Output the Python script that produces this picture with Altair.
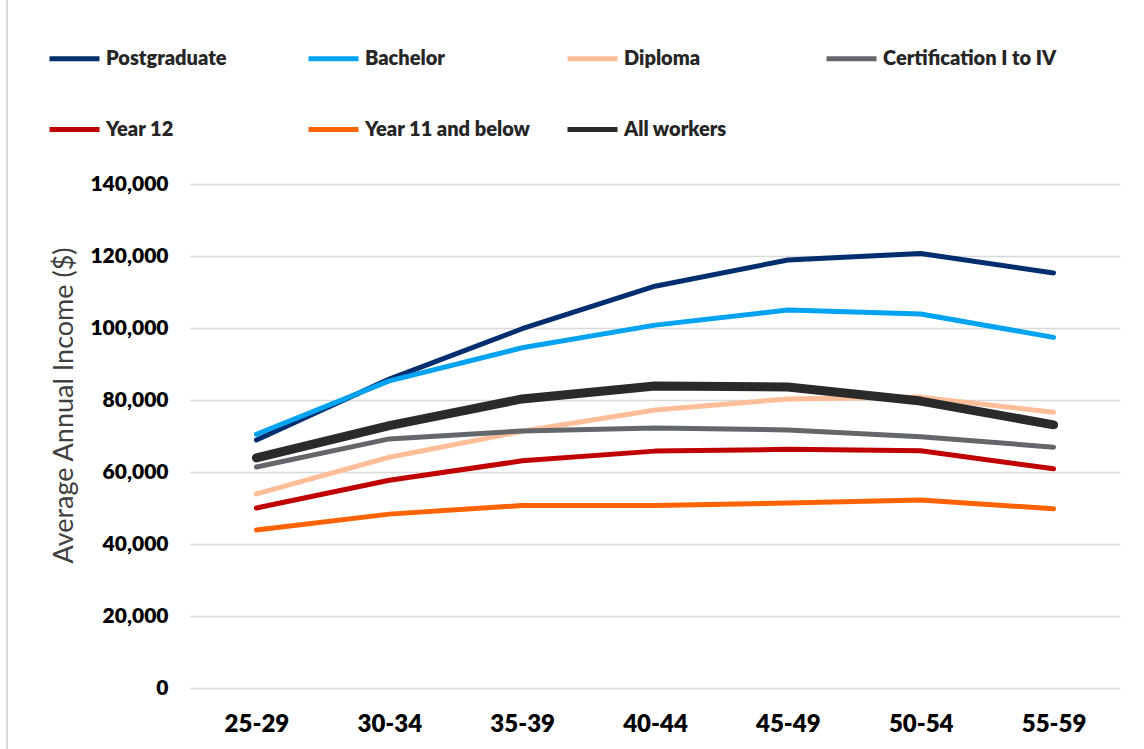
import altair as alt
import pandas as pd

age_groups = ["25-29", "30-34", "35-39", "40-44", "45-49", "50-54", "55-59"]

series_names = [
    "Postgraduate",
    "Bachelor",
    "Diploma",
    "Certification I to IV",
    "Year 12",
    "Year 11 and below",
    "All workers",
]

postgraduate = [68900, 85800, 99800, 111600, 118900, 120700, 115300]
bachelor = [70500, 85300, 94500, 100800, 105000, 103900, 97400]
diploma = [53900, 64100, 71300, 77200, 80300, 80800, 76600]
certification = [61400, 69200, 71400, 72200, 71700, 69800, 66900]
year12 = [50000, 57700, 63100, 65800, 66300, 65900, 60900]
year11 = [43900, 48300, 50700, 50700, 51400, 52200, 49800]
all_workers = [63900, 72900, 80300, 83900, 83600, 79700, 73100]

colors = ["#002E6E", "#00A2F2", "#FFBE98", "#63666A", "#C00000", "#FF6200", "#2A2A2A"]
widths = [5, 5, 5, 5, 5, 5, 9]

values = [postgraduate, bachelor, diploma, certification, year12, year11, all_workers]
rows = []
for name, w, vals in zip(series_names, widths, values):
    for i, (age, v) in enumerate(zip(age_groups, vals)):
        rows.append({"series": name, "w": w, "idx": i, "age": age, "income": v})
df = pd.DataFrame(rows)

FONT = "Lato"
TEXT = "#262626"
WEIGHT = 800

legend = alt.Legend(
    title=None,
    orient="none",
    direction="horizontal",
    legendX=-143,
    legendY=-153,
    columns=4,
    gridAlign="all",
    columnPadding=18,
    rowPadding=33,
    symbolType="stroke",
    symbolSize=2500,
    symbolStrokeWidth=5,
    labelFont=FONT,
    labelFontSize=20,
    labelFontWeight=WEIGHT,
    labelColor=TEXT,
    labelOffset=4,
    labelLimit=400,
)

lines = alt.Chart(df).mark_line(strokeCap="round", strokeJoin="round").encode(
    x=alt.X(
        "age:O",
        sort=age_groups,
        scale=alt.Scale(type="point", padding=0.5),
        axis=alt.Axis(
            title=None,
            labelFont=FONT,
            labelFontSize=24,
            labelFontWeight=WEIGHT,
            labelColor="#000000",
            labelPadding=24,
            labelAngle=0,
            ticks=False,
            domain=False,
            grid=False,
        ),
    ),
    y=alt.Y(
        "income:Q",
        scale=alt.Scale(domain=[0, 140000], nice=False),
        axis=alt.Axis(
            title="Average Annual Income ($)",
            titleFont=FONT,
            titleFontSize=27,
            titleFontWeight="normal",
            titleColor="#404040",
            titleAngle=-90,
            titleX=-126,
            titleY=221,
            titleAlign="center",
            titleBaseline="middle",
            values=[0, 20000, 40000, 60000, 80000, 100000, 120000, 140000],
            format=",d",
            labelFont=FONT,
            labelFontSize=21,
            labelFontWeight=WEIGHT,
            labelColor="#000000",
            labelPadding=22,
            ticks=False,
            domain=False,
            gridColor="#D9D9D9",
            gridWidth=1.5,
        ),
    ),
    color=alt.Color(
        "series:N",
        sort=series_names,
        scale=alt.Scale(domain=series_names, range=colors),
        legend=legend,
    ),
    strokeWidth=alt.StrokeWidth("w:Q", scale=None, legend=None),
    order=alt.Order("idx:Q"),
)

# thin frame line along the left edge of the figure
frame = alt.Chart(pd.DataFrame({"edge": [0]})).mark_rule(
    color="#D9D9D9", strokeWidth=2
).encode(
    x=alt.value(-183),
    y=alt.value(-184),
    y2=alt.value(565),
)

chart = alt.layer(frame, lines).properties(
    width=930,
    height=504,
    autosize=alt.AutoSizeParams(type="none"),
    padding={"left": 190, "top": 184, "right": 24, "bottom": 61},
    background="#FFFFFF",
).configure_view(stroke=None)

chart.save("out.html", embed_options={"renderer": "svg", "actions": False})
